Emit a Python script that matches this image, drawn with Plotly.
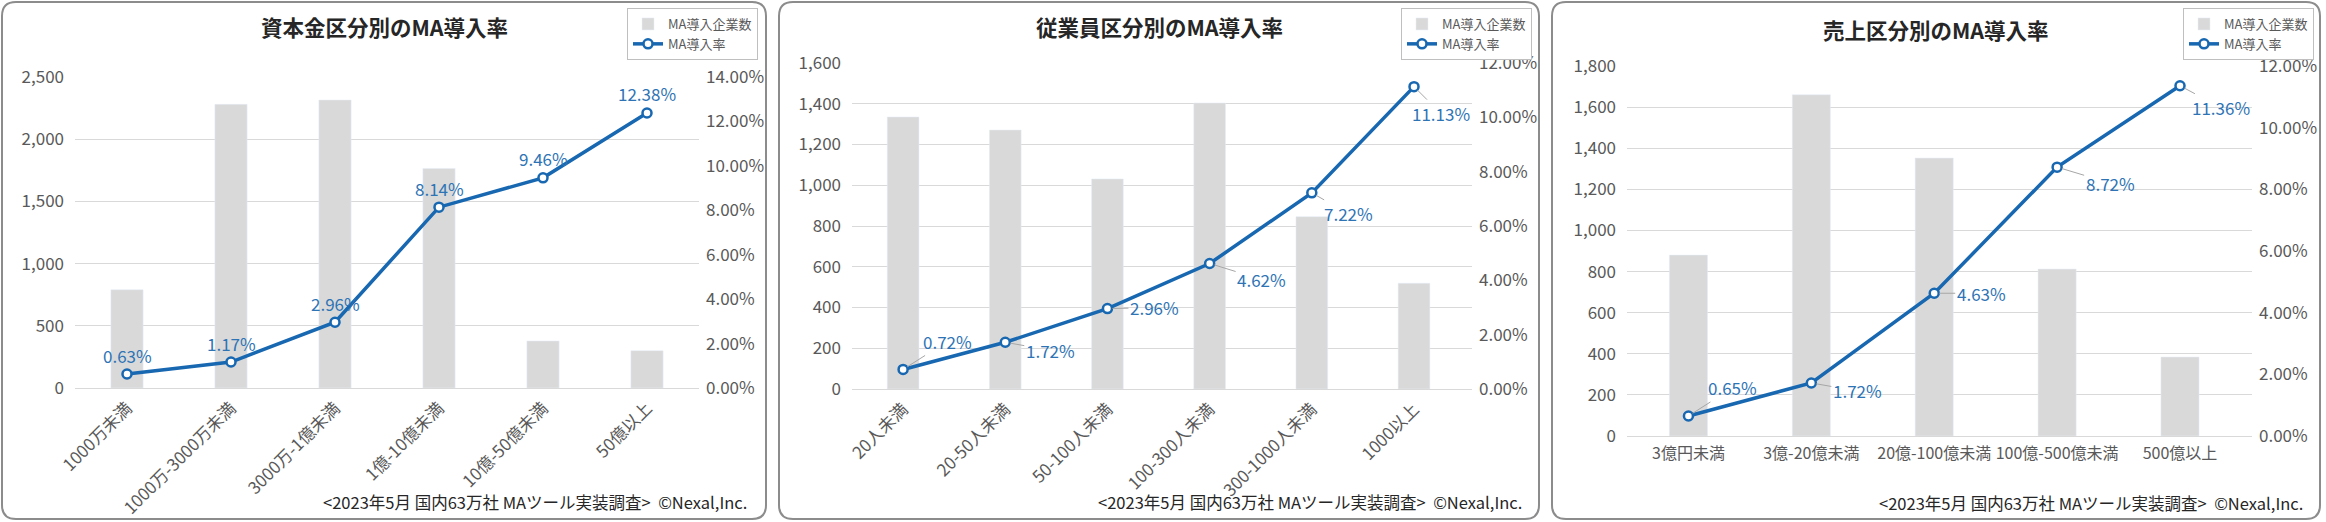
import plotly.graph_objects as go

W, H = 2326, 522

# 資本金区分
capital_cats = ['1000万未満', '1000万-3000万未満', '3000万-1億未満', '1億-10億未満', '10億-50億未満', '50億以上']
capital_counts = [790, 2280, 2315, 1765, 378, 300]
capital_rates = [0.63, 1.17, 2.96, 8.14, 9.46, 12.38]

# 従業員区分
employee_cats = ['20人未満', '20-50人未満', '50-100人未満', '100-300人未満', '300-1000人未満', '1000以上']
employee_counts = [1335, 1271, 1031, 1404, 846, 519]
employee_rates = [0.72, 1.72, 2.96, 4.62, 7.22, 11.13]

# 売上区分
sales_cats = ['3億円未満', '3億-20億未満', '20億-100億未満', '100億-500億未満', '500億以上']
sales_counts = [880, 1660, 1352, 812, 384]
sales_rates = [0.65, 1.72, 4.63, 8.72, 11.36]

titles = ['資本金区分別のMA導入率', '従業員区分別のMA導入率', '売上区分別のMA導入率']
bar_name = 'MA導入企業数'
line_name = 'MA導入率'
source_text = '&lt;2023年5月 国内63万社 MAツール実装調査&gt;\u00a0\u00a0©Nexal,Inc.'

FONT = 'Noto Sans CJK JP, Noto Sans, sans-serif'
GREY_TXT = '#595959'
GRID = '#D9D9D9'
BAR = '#D9D9D9'
BLUE = '#1767B1'
LABEL_BLUE = '#2E74B5'


def px(x):
    return x / W


def py(y):
    return 1 - y / H


# layout of each panel in pixels: frame, plot area, title, legend, footer
panels = [
    dict(cats=capital_cats, counts=capital_counts, rates=capital_rates, title=titles[0],
         ymax=2500, dtick=500, rmax=14, angle=-45, xfont=17,
         frame=(2, 766), plot=(75, 699, 77, 388), title_xy=(384, 27),
         legend_xy=(758, 8), foot_xy=(749, 502),
         offsets=None),
    dict(cats=employee_cats, counts=employee_counts, rates=employee_rates, title=titles[1],
         ymax=1600, dtick=200, rmax=12, angle=-45, xfont=17,
         frame=(779, 1539), plot=(852, 1472, 63, 389), title_xy=(1159, 27),
         legend_xy=(1532, 8), foot_xy=(1524, 502),
         offsets=[(44, -28), (45, 8), (47, -1), (52, 16), (37, 21), (27, 27)]),
    dict(cats=sales_cats, counts=sales_counts, rates=sales_rates, title=titles[2],
         ymax=1800, dtick=200, rmax=12, angle=0, xfont=16,
         frame=(1552, 2320), plot=(1627, 2252, 66, 436), title_xy=(1936, 29),
         legend_xy=(2314, 8), foot_xy=(2305, 503),
         offsets=[(44, -28), (46, 8), (47, 0), (53, 16), (41, 22)]),
]

fig = go.Figure()
shapes = []
annotations = []
layout = {}

for i, p in enumerate(panels):
    n = i + 1
    xa = 'x' if n == 1 else f'x{n}'
    ya_l = 'y' if n == 1 else f'y{2 * n - 1}'
    ya_r = f'y{2 * n}'
    leg = 'legend' if n == 1 else f'legend{n}'

    fig.add_trace(go.Bar(x=p['cats'], y=p['counts'], name=bar_name, marker_color=BAR,
                         xaxis=xa, yaxis=ya_l, legend=leg, hoverinfo='skip'))
    fig.add_trace(go.Scatter(x=p['cats'], y=p['rates'], name=line_name, mode='lines+markers',
                             line=dict(color=BLUE, width=3.5),
                             marker=dict(symbol='circle', size=9, color='white',
                                         line=dict(color=BLUE, width=2.5)),
                             xaxis=xa, yaxis=ya_r, legend=leg, cliponaxis=False))

    x0, x1, y0, y1 = p['plot']
    xkey = 'xaxis' if n == 1 else f'xaxis{n}'
    ylkey = 'yaxis' if n == 1 else f'yaxis{2 * n - 1}'
    yrkey = f'yaxis{2 * n}'
    layout[xkey] = dict(domain=[px(x0), px(x1)], anchor=ya_l, tickangle=p['angle'],
                        tickfont=dict(size=p['xfont'], color=GREY_TXT), showgrid=False,
                        showline=False, ticks='', ticklabelstandoff=6, automargin=False)
    layout[ylkey] = dict(domain=[py(y1), py(y0)], anchor=xa, range=[0, p['ymax']],
                         dtick=p['dtick'], tickformat=',d', showgrid=True, gridcolor=GRID,
                         gridwidth=1, zeroline=True, zerolinecolor=GRID, zerolinewidth=1,
                         tickfont=dict(size=17, color=GREY_TXT), ticklabelstandoff=10,
                         automargin=False)
    layout[yrkey] = dict(domain=[py(y1), py(y0)], anchor=xa, overlaying=ya_l, side='right',
                         range=[0, p['rmax']], dtick=2, tickformat='.2f', ticksuffix='%',
                         showgrid=False, zeroline=False,
                         tickfont=dict(size=17, color=GREY_TXT), ticklabelstandoff=6,
                         automargin=False)
    lx, ly = p['legend_xy']
    layout[leg] = dict(x=px(lx), y=py(ly), xanchor='right', yanchor='top',
                       font=dict(size=13, color=GREY_TXT), bgcolor='white',
                       bordercolor='#BFBFBF', borderwidth=1, tracegroupgap=0,
                       itemwidth=30)

    # panel frame with rounded corners
    fx0, fx1 = p['frame']
    fy0, fy1 = 2, 519
    r = 14
    path = (f'M {px(fx0 + r)},{py(fy0)} L {px(fx1 - r)},{py(fy0)} '
            f'Q {px(fx1)},{py(fy0)} {px(fx1)},{py(fy0 + r)} '
            f'L {px(fx1)},{py(fy1 - r)} Q {px(fx1)},{py(fy1)} {px(fx1 - r)},{py(fy1)} '
            f'L {px(fx0 + r)},{py(fy1)} Q {px(fx0)},{py(fy1)} {px(fx0)},{py(fy1 - r)} '
            f'L {px(fx0)},{py(fy0 + r)} Q {px(fx0)},{py(fy0)} {px(fx0 + r)},{py(fy0)} Z')
    shapes.append(dict(type='path', path=path, xref='paper', yref='paper',
                       line=dict(color='#8C8C8C', width=2), layer='below'))

    tx, ty = p['title_xy']
    annotations.append(dict(text=f'<b>{p["title"]}</b>', x=px(tx), y=py(ty), xref='paper',
                            yref='paper', showarrow=False, xanchor='center', yanchor='middle',
                            font=dict(size=21.5, color='#262626')))
    fx, fy = p['foot_xy']
    annotations.append(dict(text=source_text, x=px(fx), y=py(fy), xref='paper', yref='paper',
                            showarrow=False, xanchor='right', yanchor='middle',
                            font=dict(size=16.5, color='#262626')))

    # data labels
    for j, (c, v) in enumerate(zip(p['cats'], p['rates'])):
        lab = dict(text=f'{v:.2f}%', x=c, y=v, xref=xa, yref=ya_r,
                   font=dict(size=17, color=LABEL_BLUE))
        if p['offsets'] is None:
            lab.update(showarrow=False, yshift=19)
        else:
            ax, ay = p['offsets'][j]
            lab.update(showarrow=True, ax=ax, ay=ay, arrowhead=0, arrowwidth=1,
                       arrowcolor='#A6A6A6', standoff=5)
        annotations.append(lab)

fig.update_layout(
    width=W, height=H,
    margin=dict(l=0, r=0, t=0, b=0, autoexpand=False),
    paper_bgcolor='white', plot_bgcolor='white',
    font=dict(family=FONT, color=GREY_TXT),
    bargap=0.69,
    shapes=shapes,
    annotations=annotations,
    **layout,
)

# the page's default body margin would push the figure off the window
fig.write_html('out.html', config={'displayModeBar': False},
               post_script="document.body.style.margin='0';")
